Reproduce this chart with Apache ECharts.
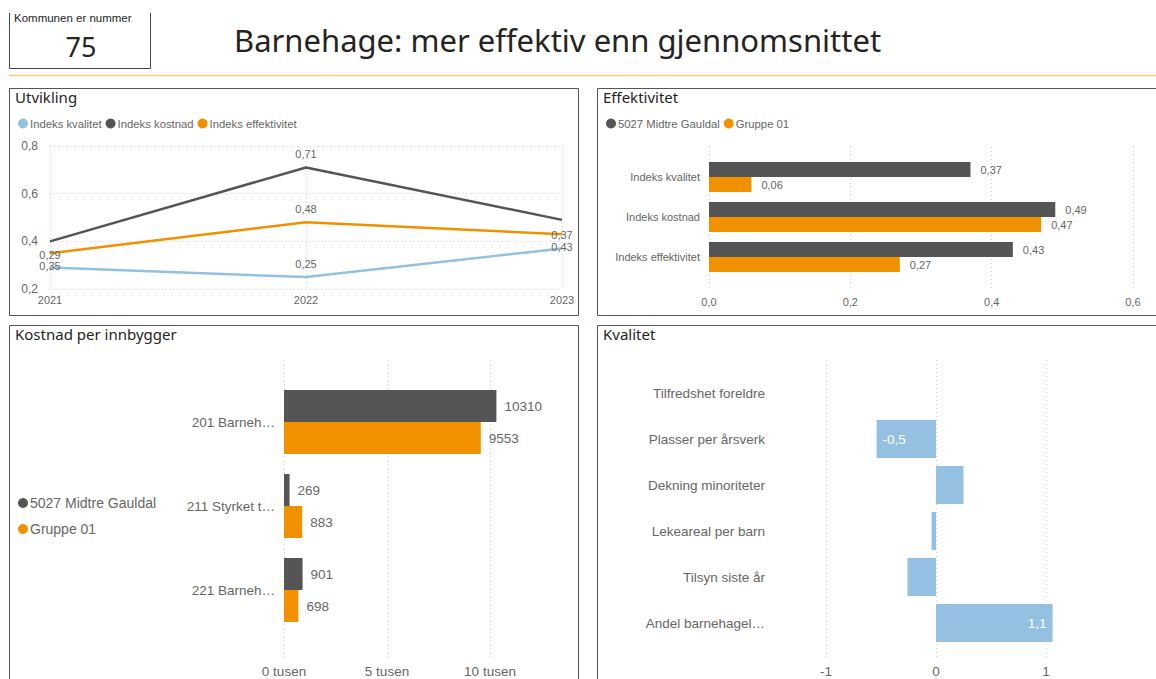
<!DOCTYPE html>
<html>
<head>
<meta charset="utf-8">
<script src="https://cdn.jsdelivr.net/npm/echarts@6/dist/echarts.min.js"></script>
<style>
html,body{margin:0;padding:0;background:#fff;}
#c{width:1156px;height:679px;}
</style>
</head>
<body>
<div id="c"></div>
<script>
// ---- data ----
const years = ['2021', '2022', '2023'];
const kvalitet = [0.29, 0.25, 0.37];
const kostnad = [0.40, 0.71, 0.49];
const effektivitet = [0.35, 0.48, 0.43];

const effCats = ['Indeks kvalitet', 'Indeks kostnad', 'Indeks effektivitet'];
const effKommune = [0.37, 0.49, 0.43];
const effGruppe = [0.06, 0.47, 0.27];

const kostCats = ['201 Barneh…', '211 Styrket t…', '221 Barneh…'];
const kostKommune = [10310, 269, 901];
const kostGruppe = [9553, 883, 698];

const kvalCats = ['Tilfredshet foreldre', 'Plasser per årsverk', 'Dekning minoriteter', 'Lekeareal per barn', 'Tilsyn siste år', 'Andel barnehagel…'];
const kvalValues = [null, -0.54, 0.25, -0.04, -0.26, 1.06];

const kommuneNr = '75';
const mainTitle = 'Barnehage: mer effektiv enn gjennomsnittet';

// ---- styles ----
const DARK = '#555555', ORANGE = '#F29100', BLUE = '#94C1E1';
const LBL = '#666666', TITLE = '#252423';
const BODY = '"Liberation Sans", Arial, sans-serif';
const HEAD = '"Noto Sans", "DejaVu Sans", sans-serif';
const dec = (v, d) => v.toFixed(d).replace('.', ',');
const gridLine = {show: true, lineStyle: {type: [1, 3], color: '#cfcfcf', width: 1}};

const chart = echarts.init(document.getElementById('c'), null, {renderer: 'svg'});

function lineLabels(arr, positions, shows) {
  return arr.map((v, i) => ({
    value: v,
    label: {show: shows ? shows[i] : true, position: positions[i]}
  }));
}

const lineLabel = {show: true, color: LBL, fontFamily: BODY, fontSize: 11, distance: 7.5, formatter: p => dec(p.value, 2)};
const panelTitle = () => ({fontFamily: HEAD, fontSize: 15, fontWeight: 'normal', color: TITLE});

const option = {
  animation: false,
  backgroundColor: '#fff',
  title: [
    {text: mainTitle, left: 234, top: 24, padding: 0, textStyle: {fontFamily: HEAD, fontSize: 31, fontWeight: 'normal', color: TITLE}},
    {text: 'Kommunen er nummer', left: 14, top: 12, padding: 0, textStyle: {fontFamily: BODY, fontSize: 11.5, fontWeight: 'normal', color: TITLE}},
    {text: kommuneNr, left: 81, top: 33, padding: 0, textAlign: 'center', textStyle: {fontFamily: HEAD, fontSize: 27, fontWeight: 'normal', color: TITLE}},
    {text: 'Utvikling', left: 15, top: 89, padding: 0, textStyle: panelTitle()},
    {text: 'Effektivitet', left: 603, top: 89, padding: 0, textStyle: panelTitle()},
    {text: 'Kostnad per innbygger', left: 15, top: 326, padding: 0, textStyle: panelTitle()},
    {text: 'Kvalitet', left: 603, top: 326, padding: 0, textStyle: panelTitle()}
  ],
  legend: [
    {data: ['Indeks kvalitet', 'Indeks kostnad', 'Indeks effektivitet'], left: 13, top: 113, icon: 'circle',
      itemWidth: 10, itemHeight: 10, itemGap: 4, textStyle: {fontFamily: BODY, fontSize: 11.3, color: LBL, padding: [0, 0, 0, -3]}},
    {data: ['5027 Midtre Gauldal', 'Gruppe 01'], left: 601, top: 113, icon: 'circle',
      itemWidth: 10, itemHeight: 10, itemGap: 4, textStyle: {fontFamily: BODY, fontSize: 11.3, color: LBL, padding: [0, 0, 0, -3]}},
    {data: ['5027 Midtre Gauldal', 'Gruppe 01'], left: 13, top: 491, orient: 'vertical', icon: 'circle',
      itemWidth: 10, itemHeight: 10, itemGap: 12, textStyle: {fontFamily: BODY, fontSize: 14, color: LBL, padding: [0, 0, 0, -3]}}
  ],
  grid: [
    {left: 50, right: 594, top: 146, bottom: 390},            // 0 line
    {left: 709, right: 23, top: 147, bottom: 389},            // 1 eff frame
    {left: 709, right: 23, top: 157, bottom: 402},            // 2 eff bars
    {left: 284, right: 563, top: 360, bottom: 21},            // 3 kost frame
    {left: 284, right: 563, top: 380, bottom: 47},            // 4 kost bars
    {left: 716, right: 0, top: 360, bottom: 21},              // 5 kval frame
    {left: 716, right: 0, top: 370, bottom: 33}               // 6 kval bars
  ],
  xAxis: [
    {gridIndex: 0, type: 'category', data: years, boundaryGap: false, axisLine: {show: false}, axisTick: {show: false},
      splitLine: gridLine, axisLabel: {color: LBL, fontFamily: BODY, fontSize: 11, margin: 5,
        formatter: v => v, alignMinLabel: 'center', alignMaxLabel: 'center'}},
    {gridIndex: 1, type: 'value', min: 0, max: 0.6, interval: 0.2, axisLine: {show: false}, axisTick: {show: false},
      splitLine: gridLine, axisLabel: {color: LBL, fontFamily: BODY, fontSize: 11, margin: 6, formatter: v => dec(v, 1)}},
    {gridIndex: 2, type: 'value', min: 0, max: 0.6, show: false},
    {gridIndex: 3, type: 'value', min: 0, max: 15000, interval: 5000, axisLine: {show: false}, axisTick: {show: false},
      splitLine: Object.assign({showMaxLine: false}, gridLine),
      axisLabel: {color: LBL, fontFamily: BODY, fontSize: 13.5, margin: 6, showMaxLabel: false, formatter: v => (v / 1000) + ' tusen'}},
    {gridIndex: 4, type: 'value', min: 0, max: 15000, show: false},
    {gridIndex: 5, type: 'value', min: -2, max: 2, interval: 1, axisLine: {show: false}, axisTick: {show: false},
      splitLine: Object.assign({showMaxLine: false, showMinLine: false}, gridLine),
      axisLabel: {color: LBL, fontFamily: BODY, fontSize: 13.5, margin: 6, showMaxLabel: false, showMinLabel: false, formatter: v => String(v)}},
    {gridIndex: 6, type: 'value', min: -2, max: 2, show: false}
  ],
  yAxis: [
    {gridIndex: 0, type: 'value', min: 0.2, max: 0.8, interval: 0.2, axisLine: {show: false}, axisTick: {show: false},
      splitLine: gridLine, axisLabel: {color: LBL, fontFamily: BODY, fontSize: 12, margin: 12, formatter: v => dec(v, 1)}},
    {gridIndex: 1, type: 'value', show: false},
    {gridIndex: 2, type: 'category', data: effCats, inverse: true, axisLine: {show: false}, axisTick: {show: false},
      axisLabel: {color: LBL, fontFamily: BODY, fontSize: 11, margin: 9}},
    {gridIndex: 3, type: 'value', show: false},
    {gridIndex: 4, type: 'category', data: kostCats, inverse: true, axisLine: {show: false}, axisTick: {show: false},
      axisLabel: {color: LBL, fontFamily: BODY, fontSize: 13.5, margin: 9}},
    {gridIndex: 5, type: 'value', show: false},
    {gridIndex: 6, type: 'category', data: kvalCats, inverse: true, axisLine: {show: false}, axisTick: {show: false},
      axisLabel: {color: LBL, fontFamily: BODY, fontSize: 13.5, margin: -49}}
  ],
  series: [
    {name: 'Indeks kvalitet', type: 'line', xAxisIndex: 0, yAxisIndex: 0, color: BLUE, symbol: 'circle', symbolSize: 0.01,
      showSymbol: true, lineStyle: {width: 2.5}, label: lineLabel,
      data: lineLabels(kvalitet, ['top', 'top', 'top'])},
    {name: 'Indeks kostnad', type: 'line', xAxisIndex: 0, yAxisIndex: 0, color: DARK, symbol: 'circle', symbolSize: 0.01,
      showSymbol: true, lineStyle: {width: 2.5}, label: lineLabel,
      data: lineLabels(kostnad, ['top', 'top', 'top'], [false, true, false])},
    {name: 'Indeks effektivitet', type: 'line', xAxisIndex: 0, yAxisIndex: 0, color: ORANGE, symbol: 'circle', symbolSize: 0.01,
      showSymbol: true, lineStyle: {width: 2.5}, label: lineLabel,
      data: lineLabels(effektivitet, ['bottom', 'top', 'bottom'])},

    {name: '5027 Midtre Gauldal', type: 'bar', xAxisIndex: 2, yAxisIndex: 2, color: DARK, barWidth: 15, barGap: '0%',
      label: {show: true, position: 'right', distance: 10, color: LBL, fontFamily: BODY, fontSize: 11, formatter: p => dec(p.value, 2)},
      data: effKommune},
    {name: 'Gruppe 01', type: 'bar', xAxisIndex: 2, yAxisIndex: 2, color: ORANGE, barWidth: 15, barGap: '0%',
      label: {show: true, position: 'right', distance: 10, color: LBL, fontFamily: BODY, fontSize: 11, formatter: p => dec(p.value, 2)},
      data: effGruppe},

    {name: '5027 Midtre Gauldal', type: 'bar', xAxisIndex: 4, yAxisIndex: 4, color: DARK, barWidth: 32, barGap: '0%',
      label: {show: true, position: 'right', distance: 8, color: LBL, fontFamily: BODY, fontSize: 13.5},
      data: kostKommune},
    {name: 'Gruppe 01', type: 'bar', xAxisIndex: 4, yAxisIndex: 4, color: ORANGE, barWidth: 32, barGap: '0%',
      label: {show: true, position: 'right', distance: 8, color: LBL, fontFamily: BODY, fontSize: 13.5},
      data: kostGruppe},

    {name: 'Kvalitet', type: 'bar', xAxisIndex: 6, yAxisIndex: 6, color: BLUE, barWidth: 38,
      data: kvalValues.map(v => ({
        value: v,
        label: {show: v !== null && Math.abs(v) >= 0.5, position: v < 0 ? 'insideLeft' : 'insideRight',
          distance: 6, color: '#fff', fontFamily: BODY, fontSize: 13.5, formatter: p => dec(p.value, 1)}
      }))}
  ],
  graphic: [
    {type: 'line', shape: {x1: 9, y1: 75.5, x2: 1156, y2: 75.5}, style: {stroke: '#F7C97E', lineWidth: 1.5}, silent: true},
    {type: 'polyline', shape: {points: [[9.5, 13], [9.5, 68.5], [150.5, 68.5], [150.5, 13]]}, style: {stroke: '#444', fill: null, lineWidth: 1}, silent: true},
    {type: 'rect', shape: {x: 9.5, y: 88.5, width: 569, height: 227}, style: {stroke: '#555', fill: null, lineWidth: 1}, silent: true},
    {type: 'rect', shape: {x: 597.5, y: 88.5, width: 570, height: 227}, style: {stroke: '#555', fill: null, lineWidth: 1}, silent: true},
    {type: 'rect', shape: {x: 9.5, y: 325.5, width: 569, height: 370}, style: {stroke: '#555', fill: null, lineWidth: 1}, silent: true},
    {type: 'rect', shape: {x: 597.5, y: 325.5, width: 570, height: 370}, style: {stroke: '#555', fill: null, lineWidth: 1}, silent: true}
  ]
};
chart.setOption(option);
</script>
</body>
</html>
